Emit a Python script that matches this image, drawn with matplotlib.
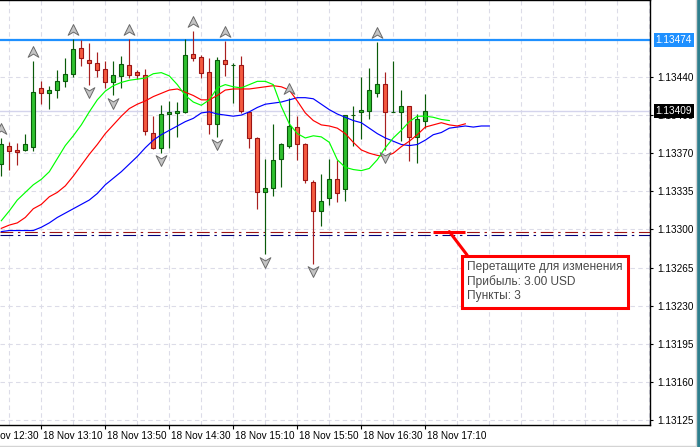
import numpy as np
import pandas as pd
import matplotlib
matplotlib.use("Agg")
import matplotlib.pyplot as plt
import matplotlib.transforms as mtrans
from matplotlib.path import Path
from matplotlib.lines import Line2D
from matplotlib.patches import Rectangle

# ---------------- data ----------------
times = pd.date_range("2018-11-18 12:45", periods=54, freq="5min")

opens = [1.13360, 1.13377, 1.13373, 1.13373, 1.13376, 1.13430, 1.13425, 1.13428, 1.13436, 1.13443,
         1.13467, 1.13456, 1.13453, 1.13447, 1.13435, 1.13441, 1.13451, 1.13445, 1.13442, 1.13389,
         1.13375, 1.13406, 1.13407, 1.13408, 1.13461, 1.13458, 1.13445, 1.13397, 1.13456, 1.13451,
         1.13451, 1.13408, 1.13384, 1.13334, 1.13338, 1.13365, 1.13377, 1.13394, 1.13378, 1.13344,
         1.13317, 1.13329, 1.13346, 1.13337, 1.13405, 1.13408, 1.13409, 1.13425, 1.13434, 1.13408,
         1.13408, 1.13413, 1.13385, 1.13400]
highs = [1.13384, 1.13380, 1.13379, 1.13388, 1.13455, 1.13436, 1.13432, 1.13446, 1.13457, 1.13475,
         1.13474, 1.13471, 1.13463, 1.13455, 1.13455, 1.13459, 1.13475, 1.13446, 1.13447, 1.13404,
         1.13414, 1.13418, 1.13417, 1.13475, 1.13482, 1.13460, 1.13457, 1.13458, 1.13473, 1.13453,
         1.13459, 1.13408, 1.13385, 1.13365, 1.13397, 1.13379, 1.13421, 1.13404, 1.13379, 1.13345,
         1.13351, 1.13365, 1.13364, 1.13405, 1.13413, 1.13440, 1.13448, 1.13472, 1.13445, 1.13455,
         1.13428, 1.13413, 1.13406, 1.13424]
lows = [1.13349, 1.13355, 1.13359, 1.13372, 1.13372, 1.13415, 1.13411, 1.13421, 1.13431, 1.13440,
        1.13450, 1.13433, 1.13440, 1.13430, 1.13423, 1.13430, 1.13439, 1.13438, 1.13387, 1.13374,
        1.13370, 1.13375, 1.13385, 1.13407, 1.13455, 1.13439, 1.13388, 1.13385, 1.13441, 1.13416,
        1.13407, 1.13375, 1.13319, 1.13277, 1.13331, 1.13339, 1.13375, 1.13364, 1.13343, 1.13268,
        1.13303, 1.13322, 1.13325, 1.13326, 1.13377, 1.13383, 1.13401, 1.13422, 1.13373, 1.13408,
        1.13381, 1.13363, 1.13361, 1.13393]
closes = [1.13378, 1.13372, 1.13371, 1.13378, 1.13426, 1.13425, 1.13428, 1.13436, 1.13443, 1.13466,
          1.13457, 1.13453, 1.13446, 1.13435, 1.13442, 1.13452, 1.13442, 1.13442, 1.13390, 1.13375,
          1.13406, 1.13408, 1.13409, 1.13460, 1.13457, 1.13444, 1.13397, 1.13456, 1.13452, 1.13451,
          1.13409, 1.13384, 1.13334, 1.13338, 1.13364, 1.13378, 1.13395, 1.13378, 1.13345, 1.13317,
          1.13326, 1.13346, 1.13333, 1.13405, 1.13405, 1.13410, 1.13428, 1.13434, 1.13408, 1.13408,
          1.13413, 1.13385, 1.13401, 1.13409]

# Alligator lines (values per bar, starting at 12:45, running past the last bar by their shift)
lips = [1.13308, 1.13317, 1.13327, 1.13334, 1.13341, 1.13346, 1.13353, 1.13365, 1.13377, 1.13386,
        1.13396, 1.13408, 1.13419, 1.13427, 1.13432, 1.13435, 1.13437, 1.13438, 1.13439, 1.13443,
        1.13444, 1.13441, 1.13433, 1.13423, 1.13417, 1.13414, 1.13419, 1.13430, 1.13433, 1.13431,
        1.13430, 1.13433, 1.13436, 1.13436, 1.13433, 1.13413, 1.13397, 1.13388, 1.13384, 1.13386,
        1.13385, 1.13380, 1.13364, 1.13357, 1.13355, 1.13354, 1.13356, 1.13364, 1.13375, 1.13384,
        1.13391, 1.13399, 1.13404, 1.13404, 1.13403, 1.13401, 1.13400]
teeth = [1.13301, 1.13304, 1.13306, 1.13311, 1.13319, 1.13323, 1.13330, 1.13334, 1.13340, 1.13349,
         1.13359, 1.13369, 1.13378, 1.13388, 1.13396, 1.13404, 1.13411, 1.13415, 1.13418, 1.13422,
         1.13425, 1.13428, 1.13429, 1.13426, 1.13423, 1.13419, 1.13419, 1.13423, 1.13428, 1.13429,
         1.13429, 1.13429, 1.13430, 1.13431, 1.13432, 1.13431, 1.13428, 1.13418, 1.13407, 1.13400,
         1.13396, 1.13395, 1.13393, 1.13388, 1.13380, 1.13373, 1.13370, 1.13368, 1.13367, 1.13370,
         1.13376, 1.13381, 1.13387, 1.13394, 1.13396, 1.13398, 1.13396, 1.13395, 1.13397]
jaw = [1.13298, 1.13299, 1.13299, 1.13299, 1.13299, 1.13302, 1.13306, 1.13311, 1.13315, 1.13319,
       1.13323, 1.13327, 1.13333, 1.13341, 1.13347, 1.13353, 1.13360, 1.13367, 1.13375, 1.13382,
       1.13387, 1.13391, 1.13395, 1.13399, 1.13402, 1.13407, 1.13408, 1.13406, 1.13405, 1.13404,
       1.13405, 1.13408, 1.13412, 1.13415, 1.13416, 1.13417, 1.13419, 1.13421, 1.13421, 1.13420,
       1.13415, 1.13410, 1.13406, 1.13403, 1.13400, 1.13398, 1.13393, 1.13388, 1.13384, 1.13381,
       1.13378, 1.13377, 1.13378, 1.13382, 1.13387, 1.13389, 1.13393, 1.13394, 1.13395, 1.13394,
       1.13395, 1.13395]

frac_up = ["12:45", "13:05", "13:30", "14:05", "14:45", "15:05", "15:45", "16:40"]
frac_down = ["13:40", "13:55", "14:25", "15:00", "15:30", "16:00", "16:45"]

level_line = 1.13474
bid_price = 1.13409
order_line_red = 1.13298
order_line_navy = 1.13295

xtick_times = ["12:30", "13:10", "13:50", "14:30", "15:10", "15:50", "16:30", "17:10"]
xtick_labels = ["18 Nov " + t for t in xtick_times]
ytick_values = [1.13125, 1.13160, 1.13195, 1.13230, 1.13265, 1.13300, 1.13335, 1.13370, 1.13405, 1.13440]
grid_extra = [1.13475]
tooltip_lines = ["Перетащите для изменения", "Прибыль: 3.00 USD", "Пункты: 3"]

# ---------------- helpers ----------------
step = pd.Timedelta("5min")
def pos(t):
    return (pd.Timestamp("2018-11-18 " + t) - times[0]) / step

W, H = 700, 447
fig = plt.figure(figsize=(W / 100, H / 100), dpi=100)
fig.patch.set_facecolor("white")
ax = fig.add_axes([0, 1 - 425 / H, 650 / W, 425 / H])
ax.set_facecolor("white")

x_left = -1.3 / 8
x_right = (650 - 1.3) / 8
y_lo, y_hi = 1.131204, 1.135107

FONT = "Liberation Sans"
grid_col = "#dcdce8"

# grid
for yv in ytick_values + grid_extra:
    ax.axhline(yv, color=grid_col, lw=0.8, ls=(0, (4, 3)), zorder=0.5)
for xv in np.arange(1, 82, 4):
    ax.axvline(xv, color=grid_col, lw=0.8, ls=(0, (4, 3)), zorder=0.5)

# bid line
ax.axhline(bid_price, color="#d4d4ec", lw=1.0, zorder=0.8)

# order lines
ax.axhline(order_line_red, color="#9b1414", lw=0.8, ls=(0, (11.5, 4.2, 2.2, 4.2)), zorder=1)
ax.axhline(order_line_navy, color="#00007a", lw=0.8, ls=(0, (11.5, 4.2, 2.2, 4.2)), zorder=1)

# level line
ax.axhline(level_line, color="#1e90ff", lw=1.6, zorder=1.2)

# candles
o = np.array(opens); h = np.array(highs); l = np.array(lows); c = np.array(closes)
xi = np.arange(len(o))
bull = c >= o
wick_cols = np.where(bull, "#0a5a0a", "#a82020")
ax.vlines(xi, l, h, colors=wick_cols, lw=0.85, zorder=2)
body_lo = np.minimum(o, c)
body_h = np.abs(c - o)
ax.bar(xi[bull], body_h[bull], bottom=body_lo[bull], width=0.52, color="#2fc02f",
       edgecolor="#0a5a0a", lw=0.8, zorder=2.2)
ax.bar(xi[~bull], body_h[~bull], bottom=body_lo[~bull], width=0.52, color="#f45a40",
       edgecolor="#9b1414", lw=0.8, zorder=2.2)

# alligator
ax.plot(np.arange(len(jaw)), jaw, color="#0000ff", lw=0.85, zorder=3)
ax.plot(np.arange(len(teeth)), teeth, color="#ff0000", lw=0.85, zorder=3)
ax.plot(np.arange(len(lips)), lips, color="#00ff00", lw=0.85, zorder=3)

# fractals
up_path = Path([(0, 0.55), (0.5, -0.45), (0, -0.15), (-0.5, -0.45), (0, 0.55)],
               [Path.MOVETO, Path.LINETO, Path.LINETO, Path.LINETO, Path.CLOSEPOLY])
dn_path = Path([(0, -0.55), (0.5, 0.45), (0, 0.15), (-0.5, 0.45), (0, -0.55)],
               [Path.MOVETO, Path.LINETO, Path.LINETO, Path.LINETO, Path.CLOSEPOLY])
tr_up = mtrans.offset_copy(ax.transData, fig=fig, y=6.5, units="points")
tr_dn = mtrans.offset_copy(ax.transData, fig=fig, y=-5.2, units="points")
fu = [int(pos(t)) for t in frac_up]
fd = [int(pos(t)) for t in frac_down]
ax.plot(fu, h[fu], ls="none", marker=up_path, ms=8.5, mfc="#c4c4c4", mec="#6a6a6a",
        mew=0.7, transform=tr_up, zorder=4)
ax.plot(fd, l[fd], ls="none", marker=dn_path, ms=8.5, mfc="#c4c4c4", mec="#6a6a6a",
        mew=0.7, transform=tr_dn, zorder=4)

# axes styling
ax.spines["left"].set_visible(False)
for s in ["right", "bottom", "top"]:
    ax.spines[s].set_color("black")
    ax.spines[s].set_linewidth(1.0)
ax.yaxis.tick_right()
ax.set_yticks(ytick_values)
ax.set_yticklabels([f"{v:.5f}" for v in ytick_values], fontfamily=FONT, fontsize=7.2)
ax.tick_params(axis="y", length=2.5, width=0.8, pad=2.5, colors="black")

xt = [pos(t) for t in xtick_times]
ax.set_xticks(xt)
ax.set_xticklabels([])
ax.tick_params(axis="x", length=2.8, width=0.8)
for xv, lab in zip(xt, xtick_labels):
    ax.annotate(lab, xy=(xv, 0), xycoords=("data", "axes fraction"), xytext=(1.4, -4.0),
                textcoords="offset points", ha="left", va="top", fontsize=7.2,
                fontfamily=FONT, annotation_clip=False)

# limits (after ticks so they are not expanded)
ax.set_xlim(x_left, x_right)
ax.set_ylim(y_lo, y_hi)

# price labels on the right scale
ax.annotate(f"{level_line:.5f}", xy=(1, level_line), xycoords=("axes fraction", "data"),
            xytext=(4.0, 0), textcoords="offset points", ha="left", va="center",
            fontsize=7.2, fontfamily=FONT, color="white", zorder=10, annotation_clip=False,
            bbox=dict(boxstyle="square,pad=0.2", fc="#1e90ff", ec="none"))
ax.annotate(f"{bid_price:.5f}", xy=(1, bid_price), xycoords=("axes fraction", "data"),
            xytext=(4.0, 0), textcoords="offset points", ha="left", va="center",
            fontsize=7.2, fontfamily=FONT, color="white", zorder=10, annotation_clip=False,
            bbox=dict(boxstyle="square,pad=0.2", fc="black", ec="none"))

# drag tooltip
ax.plot([54, 58], [order_line_red, order_line_red], color="#ff0000", lw=2.2,
        solid_capstyle="butt", zorder=5)
ax.annotate("\n".join(tooltip_lines), xy=(56, order_line_red), xycoords="data",
            xytext=(13.0, -21.5), textcoords="offset points", ha="left", va="top",
            fontsize=8.6, fontfamily=FONT, color="#4a4a4a", linespacing=1.2, zorder=6,
            bbox=dict(boxstyle="square,pad=0.45", fc="white", ec="#ff0000", lw=2.2),
            arrowprops=dict(arrowstyle="-", color="#ff0000", lw=2.2, shrinkA=0, shrinkB=0,
                            relpos=(0.03, 1.0)))

# window frame
fig.add_artist(Line2D([0, 695 / W], [1 - 446 / H] * 2, color="#d4d4d4", lw=1.0,
                      transform=fig.transFigure))
fig.add_artist(Line2D([695.5 / W] * 2, [1 - 446 / H, 1], color="#d4d4d4", lw=1.0,
                      transform=fig.transFigure))
fig.add_artist(Rectangle((697 / W, 0), 3 / W, 1, color="#2e7f8e", transform=fig.transFigure))

fig.savefig("out.png", dpi=100)
